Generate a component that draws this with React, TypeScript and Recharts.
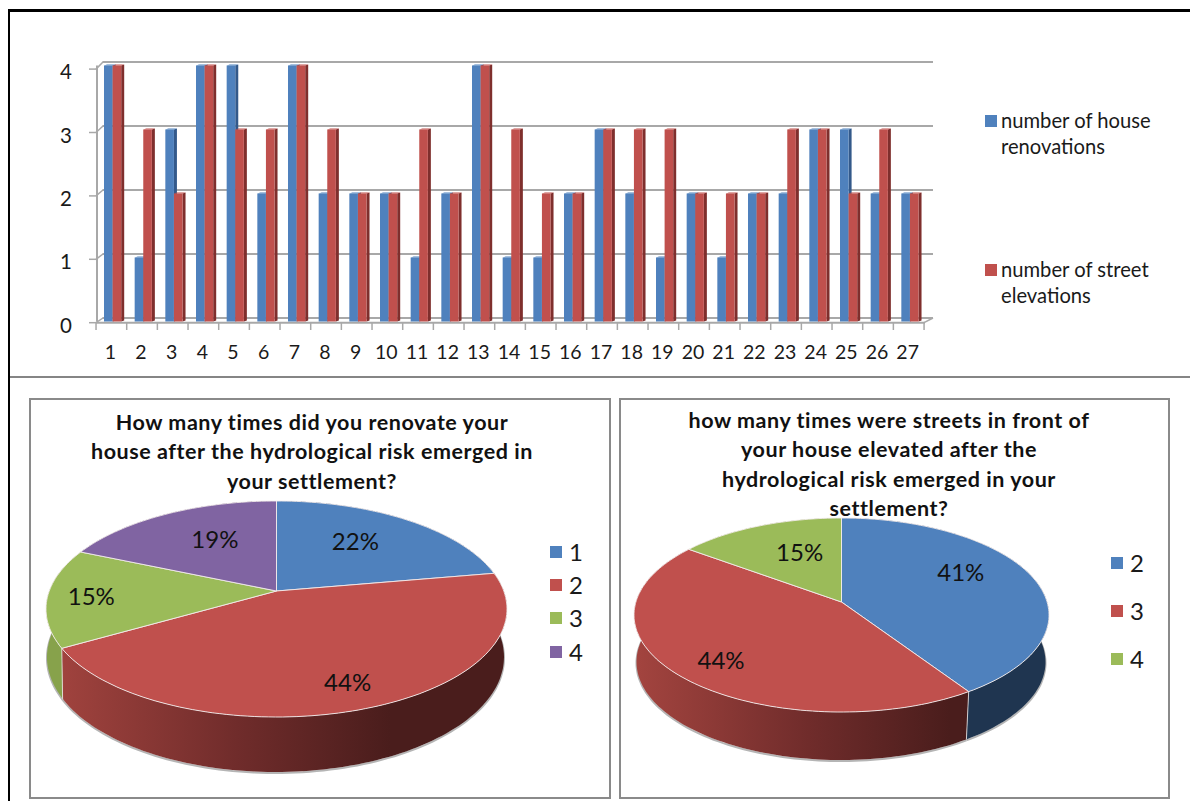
import { Bar, BarChart, CartesianGrid, Cell, Legend, Pie, PieChart, XAxis, YAxis } from "recharts";

const FONT = "Lato, 'Open Sans', sans-serif";

const respondents = ["1", "2", "3", "4", "5", "6", "7", "8", "9", "10", "11", "12", "13", "14", "15", "16", "17", "18", "19", "20", "21", "22", "23", "24", "25", "26", "27"];
const houseRenovations = [4, 1, 3, 4, 4, 2, 4, 2, 2, 2, 1, 2, 4, 1, 1, 2, 3, 2, 1, 2, 1, 2, 2, 3, 3, 2, 2];
const streetElevations = [4, 3, 2, 4, 3, 3, 4, 3, 2, 2, 3, 2, 4, 3, 2, 2, 3, 3, 3, 2, 2, 2, 3, 3, 2, 3, 2];
const valueTicks = [0, 1, 2, 3, 4];

const renovationNames = ["1", "2", "3", "4"];
const renovationCounts = [6, 12, 4, 5];
const elevationNames = ["2", "3", "4"];
const elevationCounts = [11, 12, 4];

const renovationTitle = ["How many times did you renovate your", "house after the hydrological risk emerged in", "your settlement?"];
const elevationTitle = ["how many times were streets in front of", "your house elevated after the", "hydrological risk emerged in your", "settlement?"];

const barRows = respondents.map((name, i) => ({ name, house: houseRenovations[i], street: streetElevations[i] }));
const renovationRows = renovationNames.map((name, i) => ({ name, value: renovationCounts[i] }));
const elevationRows = elevationNames.map((name, i) => ({ name, value: elevationCounts[i] }));

const BLUE = "#4f81bd";
const RED = "#c0504d";
const GREEN = "#9bbb59";
const PURPLE = "#8064a2";
const GRID = "#a8a8a8";

const wallColors: Record<string, string> = {
  [BLUE]: "#1f3550",
  [GREEN]: "#87a24b",
  [PURPLE]: "#4a3663",
};

// the front axis is slightly tighter than the bars, so ticks get remapped
const frontY = (y: number) => 322.7 + (y - 321.5) * (63.4 / 64);
const backY = (y: number) => 318 + (y - 321.5);

function GridRow(props: any) {
  const { x1, x2, y1 } = props;
  const isFloor = Math.abs(y1 - 321.5) < 1;
  return (
    <g stroke={GRID} fill="none">
      <line x1={102.5} x2={x2 + 8} y1={backY(y1)} y2={backY(y1)} strokeWidth={2} />
      <line x1={x1 - 1} x2={103} y1={frontY(y1)} y2={backY(y1)} strokeWidth={1.5} />
      {isFloor && (
        <>
          <line x1={x1 - 1} x2={x2} y1={frontY(y1)} y2={frontY(y1)} strokeWidth={2} />
          <line x1={x2 - 1} x2={x2 + 8} y1={frontY(y1)} y2={backY(y1)} strokeWidth={1.5} />
        </>
      )}
    </g>
  );
}

function Bar3D(props: any) {
  const { x, y, width, height, fill, side } = props;
  if (!height) return null;
  const d = 3;
  return (
    <g>
      <path d={`M${x + width} ${y} l${d} -1 v${height} l${-d} 1 Z`} fill={side} />
      <path d={`M${x} ${y} l${d} -1 h${width} l${-d} 1 Z`} fill={fill} />
      <rect x={x} y={y} width={width} height={height} fill={fill} />
    </g>
  );
}

function ValueTick(props: any) {
  const { y, payload } = props;
  const fy = frontY(y);
  return (
    <g>
      <line x1={89} x2={96} y1={fy} y2={fy} stroke={GRID} strokeWidth={1.5} />
      <text x={66} y={fy + 2} dominantBaseline="central" textAnchor="middle" fontFamily={FONT} fontSize={20.5} fill="#1a1a1a">
        {payload.value}
      </text>
    </g>
  );
}

function CategoryTick(props: any) {
  const { x, payload, index } = props;
  const last = index === respondents.length - 1;
  return (
    <g>
      <line x1={x - 16.3} x2={x - 16.3} y1={323} y2={330} stroke={GRID} strokeWidth={1.5} />
      {last && <line x1={x + 14.4} x2={x + 14.4} y1={323} y2={330} stroke={GRID} strokeWidth={1.5} />}
      <text x={x - 2} y={351} dominantBaseline="central" textAnchor="middle" fontFamily={FONT} fontSize={19.5} fill="#1a1a1a">
        {payload.value}
      </text>
    </g>
  );
}

function BarLegend({ payload }: any) {
  const lines = [
    ["number of house", "renovations"],
    ["number of street", "elevations"],
  ];
  const tops = [108, 257];
  return (
    <div style={{ fontFamily: FONT, fontSize: 20.2, lineHeight: "25.5px", color: "#1a1a1a" }}>
      {(payload || []).map((item: any, i: number) => (
        <div key={item.value} style={{ position: "absolute", left: 985, top: tops[i], whiteSpace: "nowrap" }}>
          <span style={{ position: "absolute", left: 0, top: 7, width: 12, height: 12, background: item.color }} />
          <div style={{ marginLeft: 16 }}>
            {lines[i].map((l) => (
              <div key={l}>{l}</div>
            ))}
          </div>
        </div>
      ))}
    </div>
  );
}

type PieGeom = {
  up: number;
  down: number;
  floorX: number;
  floorY: number;
  floorRx: number;
  floorRy: number;
  gradFrom: number;
  gradTo: number;
  id: string;
  labelR: number[];
  labelDy: number[];
};

// flat circle seen in perspective: the pie centre sits above the middle of the ellipse
function projector(cx: number, cy: number, rx: number, g: PieGeom) {
  const s = (2 * g.up * g.down) / (g.up + g.down);
  const k = s / g.up - 1;
  const sx = rx * Math.sqrt(1 - k * k);
  const midY = cy + (g.down - g.up) / 2;
  const ry = (g.up + g.down) / 2;
  const top = (deg: number, r = 1) => {
    const a = ((90 - deg) * Math.PI) / 180;
    const u = Math.sin(a);
    const v = -Math.cos(a);
    const w = 1 - k * v * r;
    return [cx + (sx * u * r) / w, cy + (s * v * r) / w];
  };
  const floor = (deg: number) => {
    const [x, y] = top(deg);
    return [g.floorX + ((x - cx) * g.floorRx) / rx, g.floorY + ((y - midY) * g.floorRy) / ry];
  };
  return { top, floor };
}

function arcAngles(start: number, end: number) {
  const out: number[] = [];
  const n = Math.max(2, Math.ceil(Math.abs(start - end) / 1.5));
  for (let i = 0; i <= n; i++) out.push(start + ((end - start) * i) / n);
  return out;
}

const toPath = (pts: number[][]) => pts.map((p, i) => `${i ? "L" : "M"}${p[0].toFixed(1)} ${p[1].toFixed(1)}`).join(" ");

const topShape = (g: PieGeom) => (props: any) => {
  const { cx, cy, outerRadius, startAngle, endAngle, fill } = props;
  const p = projector(cx, cy, outerRadius, g);
  const pts = arcAngles(startAngle, endAngle).map((d) => p.top(d));
  return <path d={`M${cx} ${cy} ${toPath(pts).replace("M", "L")} Z`} fill={fill} stroke="#f3ecec" strokeWidth={0.9} strokeLinejoin="round" />;
};

const wallShape = (g: PieGeom) => (props: any) => {
  const { cx, cy, outerRadius, startAngle, endAngle, fill } = props;
  const p = projector(cx, cy, outerRadius, g);
  const angles = arcAngles(startAngle, endAngle);
  const upper = angles.map((d) => p.top(d));
  const lower = angles.map((d) => p.floor(d));
  const paint = fill === RED ? `url(#${g.id})` : wallColors[fill];
  return (
    <g>
      {fill === RED && (
        <defs>
          <linearGradient id={g.id} gradientUnits="userSpaceOnUse" x1={g.gradFrom} x2={g.gradTo} y1={0} y2={0}>
            <stop offset="0" stopColor="#a3443f" />
            <stop offset="0.55" stopColor="#702c2b" />
            <stop offset="1" stopColor="#4a1d1c" />
          </linearGradient>
        </defs>
      )}
      <path d={toPath(lower)} fill="none" stroke="#b5b5b5" strokeWidth={2} transform="translate(0 1)" />
      <path d={`${toPath(upper)} ${toPath([...lower].reverse()).replace("M", "L")} Z`} fill={paint} />
      <path d={toPath([upper[0], lower[0]])} stroke="#e8e8e8" strokeWidth={0.8} fill="none" />
    </g>
  );
};

const pieLabel = (g: PieGeom) => (props: any) => {
  const { cx, cy, outerRadius, startAngle, endAngle, percent, index } = props;
  const p = projector(cx, cy, outerRadius, g);
  const [x, y] = p.top((startAngle + endAngle) / 2, g.labelR[index]);
  return (
    <text x={x} y={y + g.labelDy[index]} textAnchor="middle" dominantBaseline="central" fontFamily={FONT} fontSize={24} fill="#111">
      {`${Math.round(percent * 100)}%`}
    </text>
  );
};

// both pies of a chart report to the legend, keep one entry per slice name
const pieLegend = (left: number, tops: number[]) => ({ payload }: any) => {
  const items = (payload || []).filter((item: any, i: number, all: any[]) => all.findIndex((o) => o.value === item.value) === i);
  return (
    <div style={{ fontFamily: FONT, fontSize: 24, color: "#1a1a1a" }}>
      {items.map((item: any, i: number) => (
        <div key={item.value} style={{ position: "absolute", left, top: tops[i] - 14, height: 28, lineHeight: "28px" }}>
          <span style={{ position: "absolute", left: 0, top: 8, width: 12, height: 12, background: item.color }} />
          <span style={{ marginLeft: 19 }}>{item.value}</span>
        </div>
      ))}
    </div>
  );
};

const renovationGeom: PieGeom = {
  up: 90,
  down: 126,
  floorX: 275.5,
  floorY: 657,
  floorRx: 228.5,
  floorRy: 115,
  gradFrom: 50,
  gradTo: 390,
  id: "wallA",
  labelR: [0.58, 0.8, 0.81, 0.53],
  labelDy: [-7, 0, 0, -9],
};

const elevationGeom: PieGeom = {
  up: 84,
  down: 110,
  floorX: 841,
  floorY: 662,
  floorRx: 204.5,
  floorRy: 98,
  gradFrom: 636,
  gradTo: 950,
  id: "wallB",
  labelR: [0.62, 0.75, 0.48],
  labelDy: [-14, 5, -12],
};

function Pie3D({ rows, colors, cx, cy, rx, geom, legendLeft, legendTops }: any) {
  return (
    <div style={{ position: "absolute", left: 0, top: 0 }}>
      <PieChart width={1190} height={801} margin={{ top: 0, right: 0, bottom: 0, left: 0 }}>
        <Legend layout="horizontal" align="center" verticalAlign="middle" wrapperStyle={{ left: 0, top: 0 }} content={pieLegend(legendLeft, legendTops)} />
        <Pie data={rows} dataKey="value" nameKey="name" cx={cx} cy={cy} outerRadius={rx} startAngle={90} endAngle={-270} paddingAngle={0} legendType="none" shape={wallShape(geom)} isAnimationActive={false}>
          {rows.map((r: any, i: number) => (
            <Cell key={r.name} fill={colors[i]} />
          ))}
        </Pie>
        <Pie data={rows} dataKey="value" nameKey="name" cx={cx} cy={cy} outerRadius={rx} startAngle={90} endAngle={-270} paddingAngle={0} shape={topShape(geom)} label={pieLabel(geom)} labelLine={false} isAnimationActive={false}>
          {rows.map((r: any, i: number) => (
            <Cell key={r.name} fill={colors[i]} />
          ))}
        </Pie>
      </PieChart>
    </div>
  );
}

function Title({ lines, center, top }: { lines: string[]; center: number; top: number }) {
  return (
    <div style={{ position: "absolute", left: center - 280, width: 560, top, textAlign: "center", fontFamily: FONT, fontWeight: 700, fontSize: 21.5, letterSpacing: 0.55, lineHeight: "29.3px", color: "#111", whiteSpace: "nowrap" }}>
      {lines.map((l) => (
        <div key={l}>{l}</div>
      ))}
    </div>
  );
}

const box = (left: number, width: number): React.CSSProperties => ({
  position: "absolute",
  left,
  top: 398,
  width,
  height: 397,
  border: "2px solid #8a8a8a",
  boxSizing: "content-box",
});

export default function App() {
  return (
    <div style={{ position: "absolute", left: 0, top: 0, width: 1190, height: 801, overflow: "hidden", background: "#fff" }}>
      <div style={{ position: "absolute", left: 8, top: 9, width: 1182, height: 2.5, background: "#000" }} />
      <div style={{ position: "absolute", left: 7.5, top: 9, width: 2.5, height: 792, background: "#000" }} />
      <div style={{ position: "absolute", left: 10, top: 376, width: 1180, height: 2, background: "#858585" }} />
      <div style={box(29, 578)} />
      <div style={box(619, 547)} />

      <div style={{ position: "absolute", left: 0, top: 0 }}>
        <BarChart width={1190} height={375} data={barRows} barGap={0} barSize={8.6} margin={{ top: 65.5, right: 265, bottom: 23.5, left: 37 }}>
          <CartesianGrid vertical={false} horizontal={(p: any) => <GridRow key={p.index} {...p} />} />
          <XAxis dataKey="name" height={30} interval={0} axisLine={false} tickLine={false} tick={<CategoryTick />} />
          <YAxis width={60} domain={[0, 4]} ticks={valueTicks} axisLine={{ stroke: GRID, strokeWidth: 2 }} tickLine={false} tick={<ValueTick />} />
          <Legend layout="horizontal" align="center" verticalAlign="middle" wrapperStyle={{ left: 0, top: 0 }} content={<BarLegend />} />
          <Bar dataKey="house" name="number of house renovations" fill={BLUE} shape={(p: any) => <Bar3D {...p} side="#33598a" />} isAnimationActive={false} />
          <Bar dataKey="street" name="number of street elevations" fill={RED} shape={(p: any) => <Bar3D {...p} side="#7f2f2d" />} isAnimationActive={false} />
        </BarChart>
      </div>

      <Pie3D rows={renovationRows} colors={[BLUE, RED, GREEN, PURPLE]} cx={276.5} cy={591} rx={230.5} geom={renovationGeom} legendLeft={550} legendTops={[552, 585, 618, 652]} />
      <Pie3D rows={elevationRows} colors={[BLUE, RED, GREEN]} cx={841.5} cy={602} rx={207.5} geom={elevationGeom} legendLeft={1111} legendTops={[563, 611, 659]} />

      <Title lines={renovationTitle} center={312} top={408} />
      <Title lines={elevationTitle} center={889} top={406} />
    </div>
  );
}
